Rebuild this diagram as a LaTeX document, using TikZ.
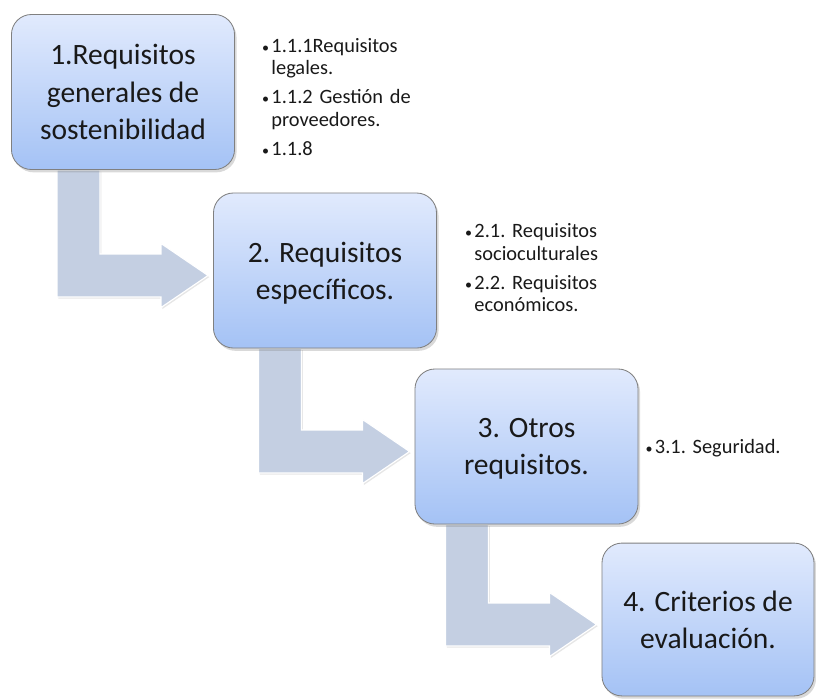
\documentclass[tikz,border=0pt]{standalone}
\usepackage{fontspec}
\setmainfont{Carlito}
\usetikzlibrary{calc,positioning,shadows,backgrounds}

\definecolor{boxtop}{RGB}{225,234,253}
\definecolor{boxbottom}{RGB}{164,194,245}
\definecolor{boxline}{RGB}{128,128,128}
\definecolor{arrowfill}{RGB}{196,207,226}

\newcommand{\bitem}[1]{\hangindent=0.23cm\hangafter=1\noindent\makebox[0.23cm][l]{\fontsize{10}{10}\selectfont•}#1\par}

\newcommand{\bentarrow}[2]{%
  \coordinate (tip) at ($(#2.west)+(-5,5)$);
  \coordinate (inner) at ($(tip)+(-108,0)$);
  \coordinate (outer) at ($(tip)+(-151,0)$);
  \path[flowarrow] (tip) -- ++(-47,-32) -- ++(0,10.5) -- ($(tip)+(-108,-21.5)$)
    -- (inner |- #1.south) -- (outer |- #1.south) -- ($(tip)+(-151,21.5)$)
    -- ($(tip)+(-47,21.5)$) -- ++(0,10.5) -- cycle;}

\tikzset{
  stage/.style={draw=boxline, line width=0.6pt, rounded corners=0.5cm,
    top color=boxtop, bottom color=boxbottom,
    minimum width=5.575cm, minimum height=3.875cm, align=center, text depth=-8pt,
    font=\fontsize{21}{26.5}\selectfont, text=black!90,
    drop shadow={shadow xshift=0.5mm, shadow yshift=-0.7mm, opacity=0.3}},
  notes/.style={anchor=north west, inner sep=0pt, text width=4.8cm,
    font=\fontsize{14.5}{15.8}\selectfont\raggedright\frenchspacing\setlength{\parskip}{5pt}, text=black!90},
  flowarrow/.style={fill=arrowfill, draw=white, line width=0.8pt,
    drop shadow={shadow xshift=0.3mm, shadow yshift=-0.4mm, opacity=0.2}}
}

\begin{document}
\begin{tikzpicture}[x=0.025cm, y=-0.025cm]
  \useasboundingbox (0,0) rectangle (816,698);
  \node[stage] (req) at (123,92) {1.Requisitos\\generales de\\sostenibilidad};
  \node[stage] (spec) at (325,270.5) {2. Requisitos\\específicos.};
  \node[stage] (other) at (526.5,446.5) {3. Otros\\requisitos.};
  \node[stage, minimum width=5.3cm, minimum height=3.82cm] (eval) at (708,619.5) {4. Criterios de\\evaluación.};

  \begin{scope}[on background layer]
    \bentarrow{req}{spec}
    \bentarrow{spec}{other}
    \bentarrow{other}{eval}
  \end{scope}

  \node[notes] (reqnotes) at ($(req.north east)+(27,24)$)
    {\bitem{1.1.1Requisitos\newline legales.}\bitem{1.1.2 Gestión de\newline proveedores.}\bitem{1.1.8}};
  \node[notes] (specnotes) at ($(spec.north east)+(28,31)$)
    {\bitem{2.1. Requisitos\newline socioculturales}\bitem{2.2. Requisitos\newline económicos.}};
  \node[notes, anchor=west, text width=3.6cm] (othernotes) at ($(other.east)+(7,2)$)
    {\bitem{3.1. Seguridad.}};
\end{tikzpicture}
\end{document}
